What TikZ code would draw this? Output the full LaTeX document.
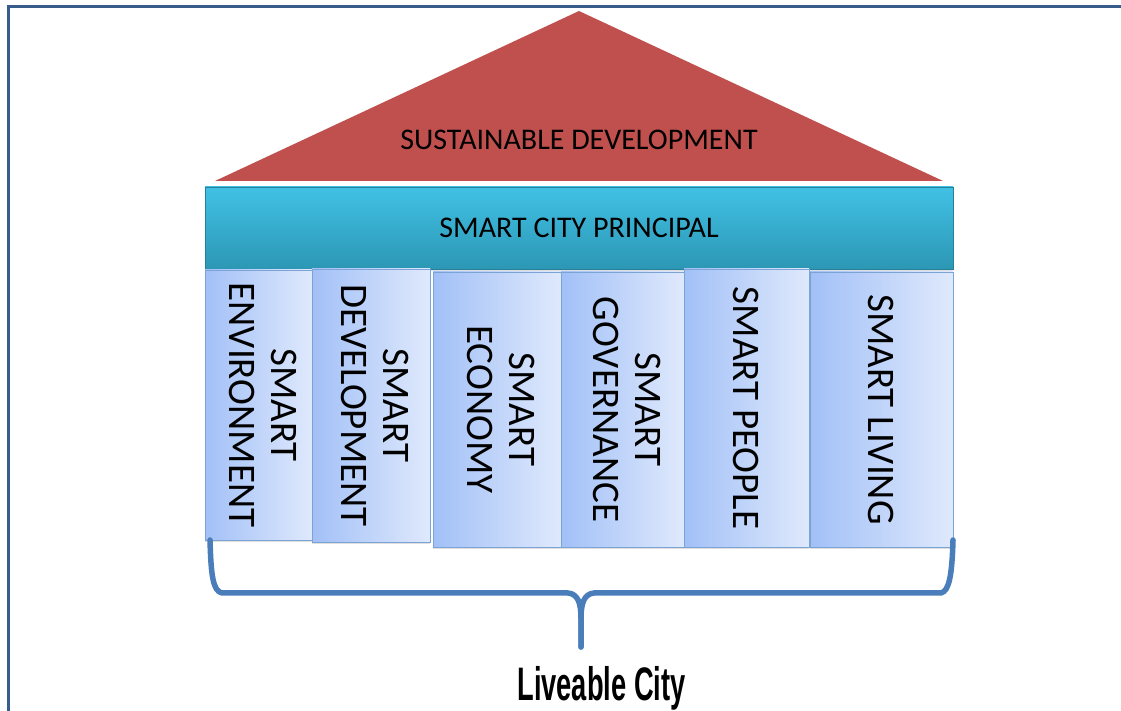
\documentclass[tikz,border=0pt]{standalone}
\usepackage{fontspec}
\usepackage{graphicx}
\setmainfont{Carlito}
\newfontfamily\liveablefont{Liberation Sans}
\usetikzlibrary{shadows}
\definecolor{roofred}{HTML}{C0504D}
\definecolor{barlight}{HTML}{41C1E5}
\definecolor{bardark}{HTML}{2C97B5}
\definecolor{pillardark}{HTML}{A2C0F7}
\definecolor{pillarlight}{HTML}{DFE9FC}
\definecolor{pillarline}{HTML}{7BA3D6}
\definecolor{bracecol}{HTML}{4A7EBB}
\definecolor{framecol}{HTML}{385D8A}
\tikzset{
  pillar/.style={draw=pillarline, line width=0.8pt, left color=pillardark, right color=pillarlight,
    inner sep=0pt, font=\fontsize{39}{42}\selectfont,
    drop shadow={opacity=0.25, shadow xshift=0pt, shadow yshift=-2pt}},
  citybar/.style={draw=bardark!85!black, line width=0.6pt, top color=barlight, bottom color=bardark,
    inner sep=0pt, font=\fontsize{30}{36}\selectfont,
    drop shadow={opacity=0.25, shadow xshift=0pt, shadow yshift=-2pt}},
  brace/.style={draw=bracecol, line width=5.5pt, line join=round, line cap=round},
}
\begin{document}
\begin{tikzpicture}[x=1pt,y=1pt]
  \useasboundingbox (0,0) rectangle (1121,711);
  % frame
  \draw[framecol,line width=3pt] (8.5,-5) -- (8.5,704.5) -- (1130,704.5);
  % roof
  \coordinate (roofleft) at (215,530);
  \coordinate (rooftop) at (579,700);
  \coordinate (roofright) at (943,530);
  \fill[roofred] (roofleft) -- (rooftop) -- (roofright) -- cycle;
  \node[font=\fontsize{30}{36}\selectfont] (sustain) at (579,571) {SUSTAINABLE DEVELOPMENT};
  % principal bar
  \node[citybar, minimum width=748, minimum height=82] (principal) at (579,483) {SMART CITY PRINCIPAL};
  % pillars
  \node[pillar, minimum width=107, minimum height=270] (environment) at (258.5,306)
    {\rotatebox{-90}{\begin{tabular}{c}SMART\\ENVIRONMENT\end{tabular}}};
  \node[pillar, minimum width=118, minimum height=273] (development) at (371,305.5)
    {\rotatebox{-90}{\begin{tabular}{c}SMART\\DEVELOPMENT\end{tabular}}};
  \node[pillar, minimum width=128, minimum height=275] (economy) at (497,301.5)
    {\rotatebox{-90}{\begin{tabular}{c}SMART\\ECONOMY\end{tabular}}};
  \node[pillar, minimum width=123, minimum height=275] (governance) at (622.5,301.5)
    {\rotatebox{-90}{\begin{tabular}{c}SMART\\GOVERNANCE\end{tabular}}};
  \node[pillar, minimum width=125, minimum height=278] (people) at (746.5,303)
    {\rotatebox{-90}{SMART PEOPLE}};
  \node[pillar, minimum width=143, minimum height=275] (living) at (881.5,301.5)
    {\rotatebox{-90}{SMART LIVING}};
  % brace
  \coordinate (bl) at (210,171);
  \coordinate (br) at (953,171);
  \coordinate (tip) at (581,64);
  \draw[brace] (bl) .. controls (211,135) and (213,120) .. (222,118) -- (568,118)
    .. controls (578,117) and (581,108) .. (581,92) -- (tip);
  \draw[brace] (tip) -- (581,92) .. controls (581,108) and (584,117) .. (594,118) -- (941,118)
    .. controls (949,120) and (952,135) .. (br);
  \node[anchor=base, font=\liveablefont\bfseries\fontsize{47}{50}\selectfont] (liveable) at (601.5,10)
    {\scalebox{0.58}[1]{Liveable City}};
\end{tikzpicture}
\end{document}
